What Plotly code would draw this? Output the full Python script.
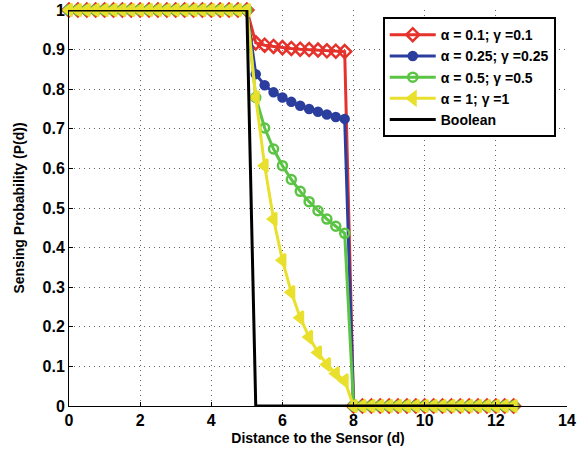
import plotly.graph_objects as go

# Distance to the sensor (d), sampled every 0.25
distance = [0.0, 0.25, 0.5, 0.75, 1.0, 1.25, 1.5, 1.75, 2.0, 2.25, 2.5, 2.75,
            3.0, 3.25, 3.5, 3.75, 4.0, 4.25, 4.5, 4.75, 5.0, 5.25, 5.5, 5.75,
            6.0, 6.25, 6.5, 6.75, 7.0, 7.25, 7.5, 7.75, 8.0, 8.25, 8.5, 8.75,
            9.0, 9.25, 9.5, 9.75, 10.0, 10.25, 10.5, 10.75, 11.0, 11.25, 11.5,
            11.75, 12.0, 12.25, 12.5]

# Sensing probability in the uncertain zone (5 < d < 8)
mid_a01 = [0.917, 0.911, 0.908, 0.905, 0.903, 0.901, 0.900, 0.899, 0.897, 0.896, 0.895]
mid_a025 = [0.838, 0.810, 0.792, 0.779, 0.768, 0.758, 0.750, 0.743, 0.736, 0.730, 0.725]
mid_a05 = [0.779, 0.702, 0.649, 0.607, 0.572, 0.542, 0.516, 0.493, 0.472, 0.454, 0.436]
mid_a1 = [0.779, 0.607, 0.472, 0.368, 0.287, 0.223, 0.174, 0.135, 0.105, 0.082, 0.064]

near = [1.0] * 21   # d <= 5
far = [0.0] * 19    # d >= 8

p_a01 = near + mid_a01 + far
p_a025 = near + mid_a025 + far
p_a05 = near + mid_a05 + far
p_a1 = near + mid_a1 + far
p_boolean = [1.0] * 21 + [0.0] * 30

labels = ["α = 0.1; γ =0.1", "α = 0.25; γ =0.25", "α = 0.5; γ =0.5",
          "α = 1; γ =1", "Boolean"]

series = [
    (p_a01, labels[0], "#e5322b", "diamond-open", 10),
    (p_a025, labels[1], "#2b3e9e", "circle", 8),
    (p_a05, labels[2], "#5cc445", "circle-open", 9),
    (p_a1, labels[3], "#e9e02e", "triangle-left", 11),
]

fig = go.Figure()
for ys, name, color, symbol, size in series:
    fig.add_trace(go.Scatter(
        x=distance, y=ys, name=name, mode="lines+markers",
        line=dict(color=color, width=3),
        marker=dict(symbol=symbol, size=size, color=color,
                    line=dict(color=color, width=2.5)),
        cliponaxis=False,
    ))

fig.add_trace(go.Scatter(
    x=distance, y=p_boolean, name=labels[4], mode="lines",
    line=dict(color="black", width=3), cliponaxis=False,
))

FAMILY = "Liberation Sans, Arial, sans-serif"
tick_font = dict(family=FAMILY, size=16, color="black", weight="bold")
title_font = dict(family=FAMILY, size=14, color="black", weight="bold")
legend_font = dict(family=FAMILY, size=14, color="black", weight="bold")

axis_common = dict(
    showgrid=True, gridcolor="#666666", gridwidth=1, griddash="1px,4px",
    showline=True, linecolor="black", linewidth=1,
    ticks="inside", ticklen=4, tickcolor="black",
    tickfont=tick_font, zeroline=False, mirror=False, automargin=False,
)

fig.update_layout(
    width=585, height=454,
    margin=dict(l=69, r=18, t=10, b=48),
    paper_bgcolor="white", plot_bgcolor="white",
    xaxis=dict(range=[0, 14], dtick=2, tick0=0,
               title=dict(text="Distance to the Sensor (d)", standoff=4,
                          font=title_font),
               **axis_common),
    yaxis=dict(range=[0, 1], dtick=0.1, tick0=0,
               title=dict(text="Sensing Probability (P(d))", standoff=14,
                          font=title_font),
               **axis_common),
    legend=dict(x=0.63, y=0.982, xanchor="left", yanchor="top",
                bgcolor="white", bordercolor="black", borderwidth=2,
                font=legend_font, itemwidth=46, tracegroupgap=0),
    showlegend=True,
)

fig.write_html("out.html")
